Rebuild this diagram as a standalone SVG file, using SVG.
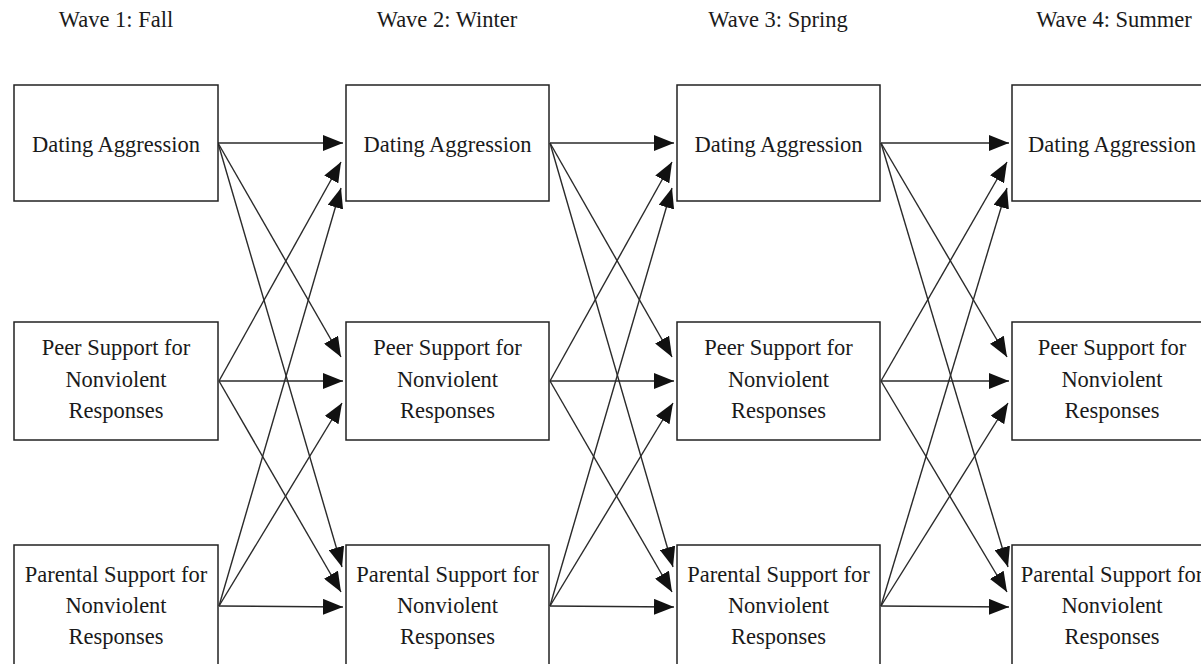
<svg xmlns="http://www.w3.org/2000/svg" width="1201" height="664" viewBox="0 0 1201 664">
<style>
.box{fill:#fff;stroke:#222;stroke-width:1.5}
.t{font-family:"Liberation Serif","Times New Roman",serif;font-size:22.5px;fill:#1a1a1a;text-anchor:middle}
.e{stroke:#2a2a2a;stroke-width:1.4;fill:none;marker-end:url(#ah)}
</style>
<defs>
<marker id="ah" markerUnits="userSpaceOnUse" markerWidth="20" markerHeight="16" refX="20" refY="8" orient="auto" viewBox="0 0 20 16">
<path d="M0,0 L20,8 L0,16 z" fill="#111"/>
</marker>
</defs>
<rect width="1201" height="664" fill="#fff"/>
<g id="headers">
<text class="t" x="116" y="27">Wave 1: Fall</text>
<text class="t" x="447" y="27">Wave 2: Winter</text>
<text class="t" x="778" y="27">Wave 3: Spring</text>
<text class="t" x="1114" y="27">Wave 4: Summer</text>
</g>
<g id="connectors">
<line class="e" x1="218" y1="143" x2="343" y2="143"/>
<line class="e" x1="218" y1="143" x2="341" y2="357"/>
<line class="e" x1="218" y1="143" x2="342" y2="567"/>
<line class="e" x1="219" y1="381" x2="341" y2="162"/>
<line class="e" x1="219" y1="381" x2="343" y2="381"/>
<line class="e" x1="219" y1="381" x2="341" y2="592"/>
<line class="e" x1="219" y1="606" x2="341" y2="188"/>
<line class="e" x1="219" y1="606" x2="342" y2="403"/>
<line class="e" x1="219" y1="606" x2="343" y2="607"/>

<line class="e" x1="550" y1="143" x2="674" y2="143"/>
<line class="e" x1="550" y1="143" x2="672" y2="357"/>
<line class="e" x1="550" y1="143" x2="673" y2="567"/>
<line class="e" x1="550" y1="381" x2="672" y2="162"/>
<line class="e" x1="550" y1="381" x2="674" y2="381"/>
<line class="e" x1="550" y1="381" x2="672" y2="592"/>
<line class="e" x1="550" y1="606" x2="672" y2="188"/>
<line class="e" x1="550" y1="606" x2="673" y2="403"/>
<line class="e" x1="550" y1="606" x2="674" y2="607"/>

<line class="e" x1="881" y1="143" x2="1009" y2="143"/>
<line class="e" x1="881" y1="143" x2="1007" y2="357"/>
<line class="e" x1="881" y1="143" x2="1008" y2="567"/>
<line class="e" x1="881" y1="381" x2="1007" y2="162"/>
<line class="e" x1="881" y1="381" x2="1009" y2="381"/>
<line class="e" x1="881" y1="381" x2="1007" y2="592"/>
<line class="e" x1="881" y1="606" x2="1007" y2="188"/>
<line class="e" x1="881" y1="606" x2="1008" y2="403"/>
<line class="e" x1="881" y1="606" x2="1009" y2="607"/>
</g>
<g id="da1"><rect class="box" x="14" y="85" width="204" height="116"/><text class="t" x="116" y="152">Dating Aggression</text></g>
<g id="ps1"><rect class="box" x="14" y="322" width="204" height="118"/><text class="t" x="116" y="355">Peer Support for</text><text class="t" x="116" y="387">Nonviolent</text><text class="t" x="116" y="418">Responses</text></g>
<g id="pa1"><rect class="box" x="14" y="545" width="204" height="122"/><text class="t" x="116" y="582">Parental Support for</text><text class="t" x="116" y="613">Nonviolent</text><text class="t" x="116" y="644">Responses</text></g>

<g id="da2"><rect class="box" x="346" y="85" width="203" height="116"/><text class="t" x="447.5" y="152">Dating Aggression</text></g>
<g id="ps2"><rect class="box" x="346" y="322" width="203" height="118"/><text class="t" x="447.5" y="355">Peer Support for</text><text class="t" x="447.5" y="387">Nonviolent</text><text class="t" x="447.5" y="418">Responses</text></g>
<g id="pa2"><rect class="box" x="346" y="545" width="203" height="122"/><text class="t" x="447.5" y="582">Parental Support for</text><text class="t" x="447.5" y="613">Nonviolent</text><text class="t" x="447.5" y="644">Responses</text></g>

<g id="da3"><rect class="box" x="677" y="85" width="203" height="116"/><text class="t" x="778.5" y="152">Dating Aggression</text></g>
<g id="ps3"><rect class="box" x="677" y="322" width="203" height="118"/><text class="t" x="778.5" y="355">Peer Support for</text><text class="t" x="778.5" y="387">Nonviolent</text><text class="t" x="778.5" y="418">Responses</text></g>
<g id="pa3"><rect class="box" x="677" y="545" width="203" height="122"/><text class="t" x="778.5" y="582">Parental Support for</text><text class="t" x="778.5" y="613">Nonviolent</text><text class="t" x="778.5" y="644">Responses</text></g>

<g id="da4"><rect class="box" x="1012" y="85" width="204" height="116"/><text class="t" x="1112" y="152">Dating Aggression</text></g>
<g id="ps4"><rect class="box" x="1012" y="322" width="204" height="118"/><text class="t" x="1112" y="355">Peer Support for</text><text class="t" x="1112" y="387">Nonviolent</text><text class="t" x="1112" y="418">Responses</text></g>
<g id="pa4"><rect class="box" x="1012" y="545" width="204" height="122"/><text class="t" x="1112" y="582">Parental Support for</text><text class="t" x="1112" y="613">Nonviolent</text><text class="t" x="1112" y="644">Responses</text></g>
</svg>
